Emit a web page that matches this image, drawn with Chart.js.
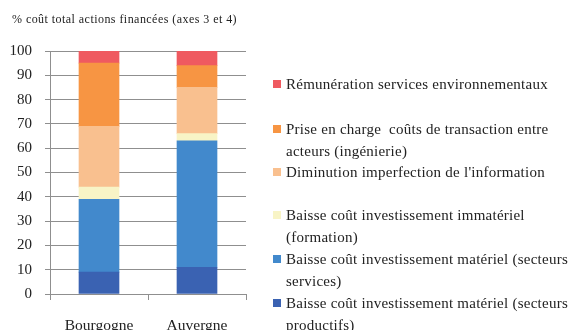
<!DOCTYPE html>
<html>
<head>
<meta charset="utf-8">
<script src="https://cdn.jsdelivr.net/npm/chart.js@4"></script>
<style>
  body { margin: 0; background: #fff; }
  #wrap { position: relative; width: 569px; height: 330px; overflow: hidden; }
  #title { position: absolute; left: 12px; top: 12px; font: 12px "Liberation Serif", serif; color: #222; letter-spacing: 0.45px; white-space: nowrap; }
  .leg { position: absolute; left: 273px; font: 15px "Liberation Serif", serif; color: #222; line-height: 22px; white-space: pre; letter-spacing: 0.25px; }
  .leg span.box { position: absolute; left: 0; top: 7px; width: 8px; height: 8px; }
  .leg span.txt { position: absolute; left: 13px; top: 0; }
</style>
</head>
<body>
<div id="wrap">
  <canvas id="myChart" width="569" height="330"></canvas>
  <div id="title">% coût total actions financées (axes 3 et 4)</div>
</div>
<script>
// regions on the x axis
const regions = ['Bourgogne', 'Auvergne']

// series, stacked from the bottom up (values in % of total cost)
const seriesNames = [
  'Baisse coût investissement matériel (secteurs\nproductifs)',
  'Baisse coût investissement matériel (secteurs\nservices)',
  'Baisse coût investissement immatériel\n(formation)',
  "Diminution imperfection de l'information",
  'Prise en charge  coûts de transaction entre\nacteurs (ingénierie)',
  'Rémunération services environnementaux'
]
const productifs = [9, 11]
const services = [30, 52]
const immateriel = [5, 3]
const information = [25, 19]
const transaction = [26, 9]
const remuneration = [5, 6]

const yTicks = [0, 10, 20, 30, 40, 50, 60, 70, 80, 90, 100]

const colors = ['#3a62b2', '#4289cc', '#f8f4c6', '#f9c08f', '#f79543', '#ef5a60']
// top of the first line of each legend entry, top entry first
const legendTops = [73, 118, 161, 204, 248, 292]

const seriesValues = [productifs, services, immateriel, information, transaction, remuneration]
const gridColor = '#8f8f8f'

var ctx = document.getElementById('myChart').getContext('2d')
var chart = new Chart(ctx, {
  type: 'bar',
  data: {
    labels: regions,
    datasets: seriesValues.map(function (vals, i) {
      return {
        label: seriesNames[i],
        data: vals,
        backgroundColor: colors[i],
        borderWidth: 0,
        barThickness: 40
      }
    })
  },
  options: {
    responsive: false,
    animation: false,
    layout: { padding: { top: 51, right: 323, bottom: 0, left: 0 } },
    plugins: { legend: { display: false }, tooltip: { enabled: false } },
    scales: {
      x: {
        stacked: true,
        grid: { offset: true, drawOnChartArea: false, color: gridColor, tickLength: 6, lineWidth: 1 },
        border: { color: gridColor },
        ticks: { color: '#222', padding: 17, font: { family: 'Liberation Serif', size: 15.5 } },
        afterFit: function (scale) { scale.height = 36 }
      },
      y: {
        stacked: true,
        min: 0,
        max: 100,
        afterBuildTicks: function (scale) { scale.ticks = yTicks.map(function (v) { return { value: v } }) },
        grid: { color: gridColor, tickLength: 5, lineWidth: 1 },
        border: { color: gridColor },
        ticks: { color: '#222', padding: 13, font: { family: 'Liberation Serif', size: 15 } },
        afterFit: function (scale) { scale.width = 50 }
      }
    }
  }
})

// legend on the right, top entry = top of the stack
var wrap = document.getElementById('wrap')
for (var k = 0; k < seriesNames.length; k++) {
  var i = seriesNames.length - 1 - k
  var item = document.createElement('div')
  item.className = 'leg'
  item.style.top = legendTops[k] + 'px'
  var box = document.createElement('span')
  box.className = 'box'
  box.style.background = colors[i]
  var txt = document.createElement('span')
  txt.className = 'txt'
  txt.textContent = seriesNames[i]
  item.appendChild(box)
  item.appendChild(txt)
  wrap.appendChild(item)
}
</script>
</body>
</html>
